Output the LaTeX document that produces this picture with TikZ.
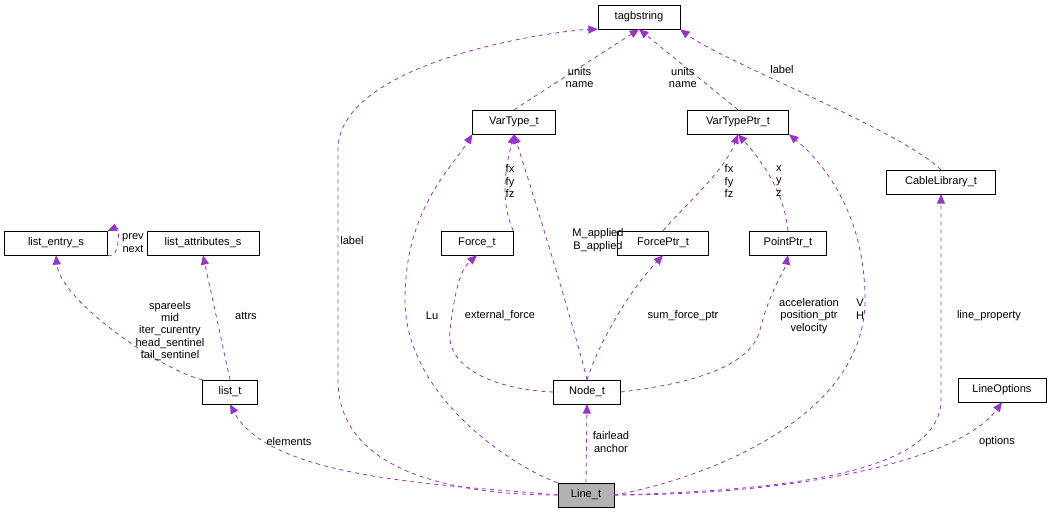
\documentclass[tikz,border=0pt]{standalone}
\usepackage{fontspec}
\setmainfont{Liberation Sans}
\usetikzlibrary{arrows.meta}
\definecolor{ep}{HTML}{9A32CD}
\begin{document}
\begin{tikzpicture}[x=0.75pt,y=-0.75pt,
 box/.style={draw,fill=white,font=\fontsize{8.3}{9.3}\selectfont,inner sep=0pt,minimum height=18pt},
 ed/.style={ep,dashed,line width=0.6pt,-{Triangle[open,fill=ep,length=7pt,width=6pt]}},
 lb/.style={font=\fontsize{8.3}{9.3}\selectfont,align=center,inner sep=1pt,text=black}]
\useasboundingbox (0,0) rectangle (1053,515);
\node[box,minimum width=61.5pt] (tag) at (639,17) {tagbstring};
\node[box,minimum width=62pt] (vt) at (514,122) {VarType\_t};
\node[box,minimum width=76pt] (vtp) at (738,122) {VarTypePtr\_t};
\node[box,minimum width=82pt] (cl) at (941,182) {CableLibrary\_t};
\node[box,minimum width=77pt] (les) at (56,243) {list\_entry\_s};
\node[box,minimum width=84pt] (las) at (203,243) {list\_attributes\_s};
\node[box,minimum width=54pt] (ft) at (477,243) {Force\_t};
\node[box,minimum width=68pt] (fpt) at (663,243) {ForcePtr\_t};
\node[box,minimum width=58pt] (ppt) at (788,243) {PointPtr\_t};
\node[box,minimum width=41pt] (lt) at (230,392) {list\_t};
\node[box,minimum width=50pt] (nt) at (587,392) {Node\_t};
\node[box,minimum width=66pt] (lo) at (1002,390) {LineOptions};
\node[box,minimum width=42pt,fill=gray!60] (line) at (586,495) {Line\_t};

\draw[ed] (line.west) .. controls (450,495) and (338,470) .. (338,380) -- (338,150) .. controls (338,60) and (560,30) .. (tag.south west);
\node[lb] at (352,241) {label};
\draw[ed] (vt.north) -- node[lb,right,pos=0.4]{units\\name} (tag.south);
\draw[ed] (vtp.north) -- node[lb,left,pos=0.4]{units\\name} (tag.south);
\draw[ed] (cl.north) .. controls (900,130) and (720,60) .. (tag.south east);
\node[lb] at (782,70) {label};
\draw[ed] (ft.north east) .. controls (500,200) and (505,170) .. (vt.south);
\node[lb] at (510,181) {fx\\fy\\fz};
\draw[ed] (nt.north) .. controls (575,330) and (535,200) .. (vt.south);
\node[lb] at (598,240) {M\_applied\\B\_applied};
\draw[ed] (line.north west) .. controls (520,470) and (405,400) .. (405,300) .. controls (405,210) and (450,170) .. (vt.south west);
\node[lb] at (432,316) {Lu};
\draw[ed] (fpt.north) .. controls (690,200) and (725,170) .. (vtp.south);
\node[lb] at (729,181) {fx\\fy\\fz};
\draw[ed] (ppt.north) .. controls (785,200) and (770,170) .. (vtp.south);
\node[lb] at (779,181) {x\\y\\z};
\draw[ed] (line.east) .. controls (700,480) and (865,420) .. (865,300) .. controls (865,210) and (820,160) .. (vtp.south east);
\node[lb] at (860,309) {V\\H};
\draw[ed] (nt.west) .. controls (500,390) and (445,370) .. (450,330) .. controls (455,290) and (460,270) .. (ft.south);
\node[lb] at (500,316) {external\_force};
\draw[ed] (nt.north) .. controls (600,340) and (630,290) .. (fpt.south);
\node[lb] at (683,316) {sum\_force\_ptr};
\draw[ed] (nt.east) .. controls (680,385) and (750,370) .. (760,330) .. controls (770,290) and (785,270) .. (ppt.south);
\node[lb] at (809,316) {acceleration\\position\_ptr\\velocity};
\draw[ed] (line.north) -- (nt.south);
\node[lb] at (611,442) {fairlead\\anchor};
\draw[ed] (line.west) .. controls (450,485) and (270,480) .. (lt.south);
\node[lb] at (289,442) {elements};
\draw[ed] (lt.north west) .. controls (160,370) and (60,300) .. (les.south);
\node[lb] at (170,331) {spareels\\mid\\iter\_curentry\\head\_sentinel\\tail\_sentinel};
\draw[ed] (lt.north) -- (las.south);
\node[lb] at (246,316) {attrs};
\draw[ed] (les.south east) .. controls (120,260) and (120,226) .. (les.north east);
\node[lb] at (133,243) {prev\\next};
\draw[ed] (line.east) .. controls (800,490) and (940,470) .. (941,400) -- (cl.south);
\node[lb] at (989,316) {line\_property};
\draw[ed] (line.east) .. controls (800,495) and (960,460) .. (lo.south);
\node[lb] at (997,442) {options};
\end{tikzpicture}
\end{document}
